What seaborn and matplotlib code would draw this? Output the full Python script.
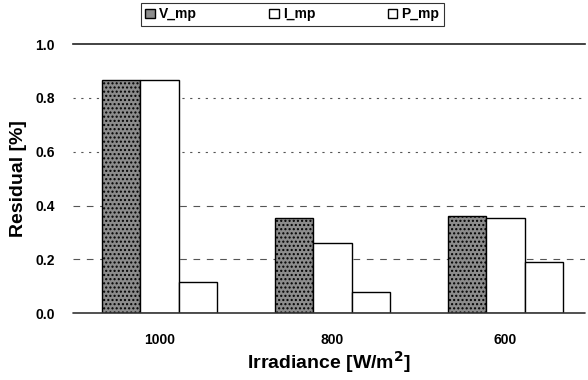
import matplotlib
matplotlib.use("Agg")
import matplotlib.pyplot as plt
import seaborn as sns
import pandas as pd

irradiance = ["1000", "800", "600"]
v_mp = [0.865, 0.355, 0.36]
i_mp = [0.865, 0.262, 0.355]
p_mp = [0.115, 0.077, 0.19]
series = ["V_mp", "I_mp", "P_mp"]

rows = []
for name, vals in zip(series, [v_mp, i_mp, p_mp]):
    for cat, v in zip(irradiance, vals):
        rows.append({"Irradiance": cat, "Residual": v, "Series": name})
df = pd.DataFrame(rows)

sns.set_style("white")
plt.rcParams["font.family"] = ["Liberation Sans", "DejaVu Sans"]
plt.rcParams["text.color"] = "black"
plt.rcParams["axes.labelcolor"] = "black"
plt.rcParams["xtick.color"] = "black"
plt.rcParams["ytick.color"] = "black"
plt.rcParams["hatch.color"] = "#333333"
plt.rcParams["hatch.linewidth"] = 1.0

fig = plt.figure(figsize=(5.88, 3.80), dpi=100)
ax = fig.add_axes([0.124, 0.176, 0.871, 0.708])

palette = {"V_mp": "#8c8c8c", "I_mp": "white", "P_mp": "white"}
sns.barplot(data=df, x="Irradiance", y="Residual", hue="Series", order=irradiance,
            hue_order=series, palette=palette, width=0.667, edgecolor="black",
            linewidth=1.0, saturation=1, ax=ax, legend=True, zorder=3)

for bar in ax.containers[0]:
    bar.set_hatch("....")
    bar.set_edgecolor("black")

ax.set_ylim(0, 1.0)
ax.set_xlim(-0.5, 2.46)
ax.set_yticks([0.0, 0.2, 0.4, 0.6, 0.8, 1.0])
ax.set_yticklabels(["0.0", "0.2", "0.4", "0.6", "0.8", "1.0"], fontweight="bold", fontsize=10)
for lbl in ax.get_xticklabels():
    lbl.set_fontweight("bold")
    lbl.set_fontsize(10)
ax.tick_params(axis="y", length=0, pad=13)
ax.tick_params(axis="x", length=0, pad=14)

for y, ls in [(0.2, (0, (6, 6))), (0.4, (0, (6, 6))), (0.6, (0, (2, 5))), (0.8, (0, (2, 5)))]:
    ax.axhline(y, color="#555555", lw=0.8, ls=ls, zorder=1)

for s in ["left", "right", "bottom"]:
    ax.spines[s].set_visible(False)
ax.spines["top"].set_visible(True)
ax.spines["top"].set_color("#222222")
ax.spines["top"].set_linewidth(1.2)
ax.axhline(0, color="#333333", lw=1.2, zorder=4, clip_on=False)

ax.set_ylabel("Residual [%]", fontweight="bold", fontsize=14)
ax.yaxis.set_label_coords(-0.09, 0.5)
ax.set_xlabel("Irradiance [W/m$^\\mathbf{2}$]", fontweight="bold", fontsize=14, labelpad=2)

handles, labels = ax.get_legend_handles_labels()
ax.legend_.remove()
leg = fig.legend(handles, labels, loc="center", bbox_to_anchor=(0.497, 0.962), ncol=3,
                 frameon=True, fancybox=False, edgecolor="black",
                 prop={"weight": "bold", "size": 10}, handlelength=0.7, handleheight=0.7,
                 columnspacing=5.2, handletextpad=0.3, borderpad=0.3)
leg.get_frame().set_linewidth(0.8)

fig.savefig("out.png", dpi=100)
